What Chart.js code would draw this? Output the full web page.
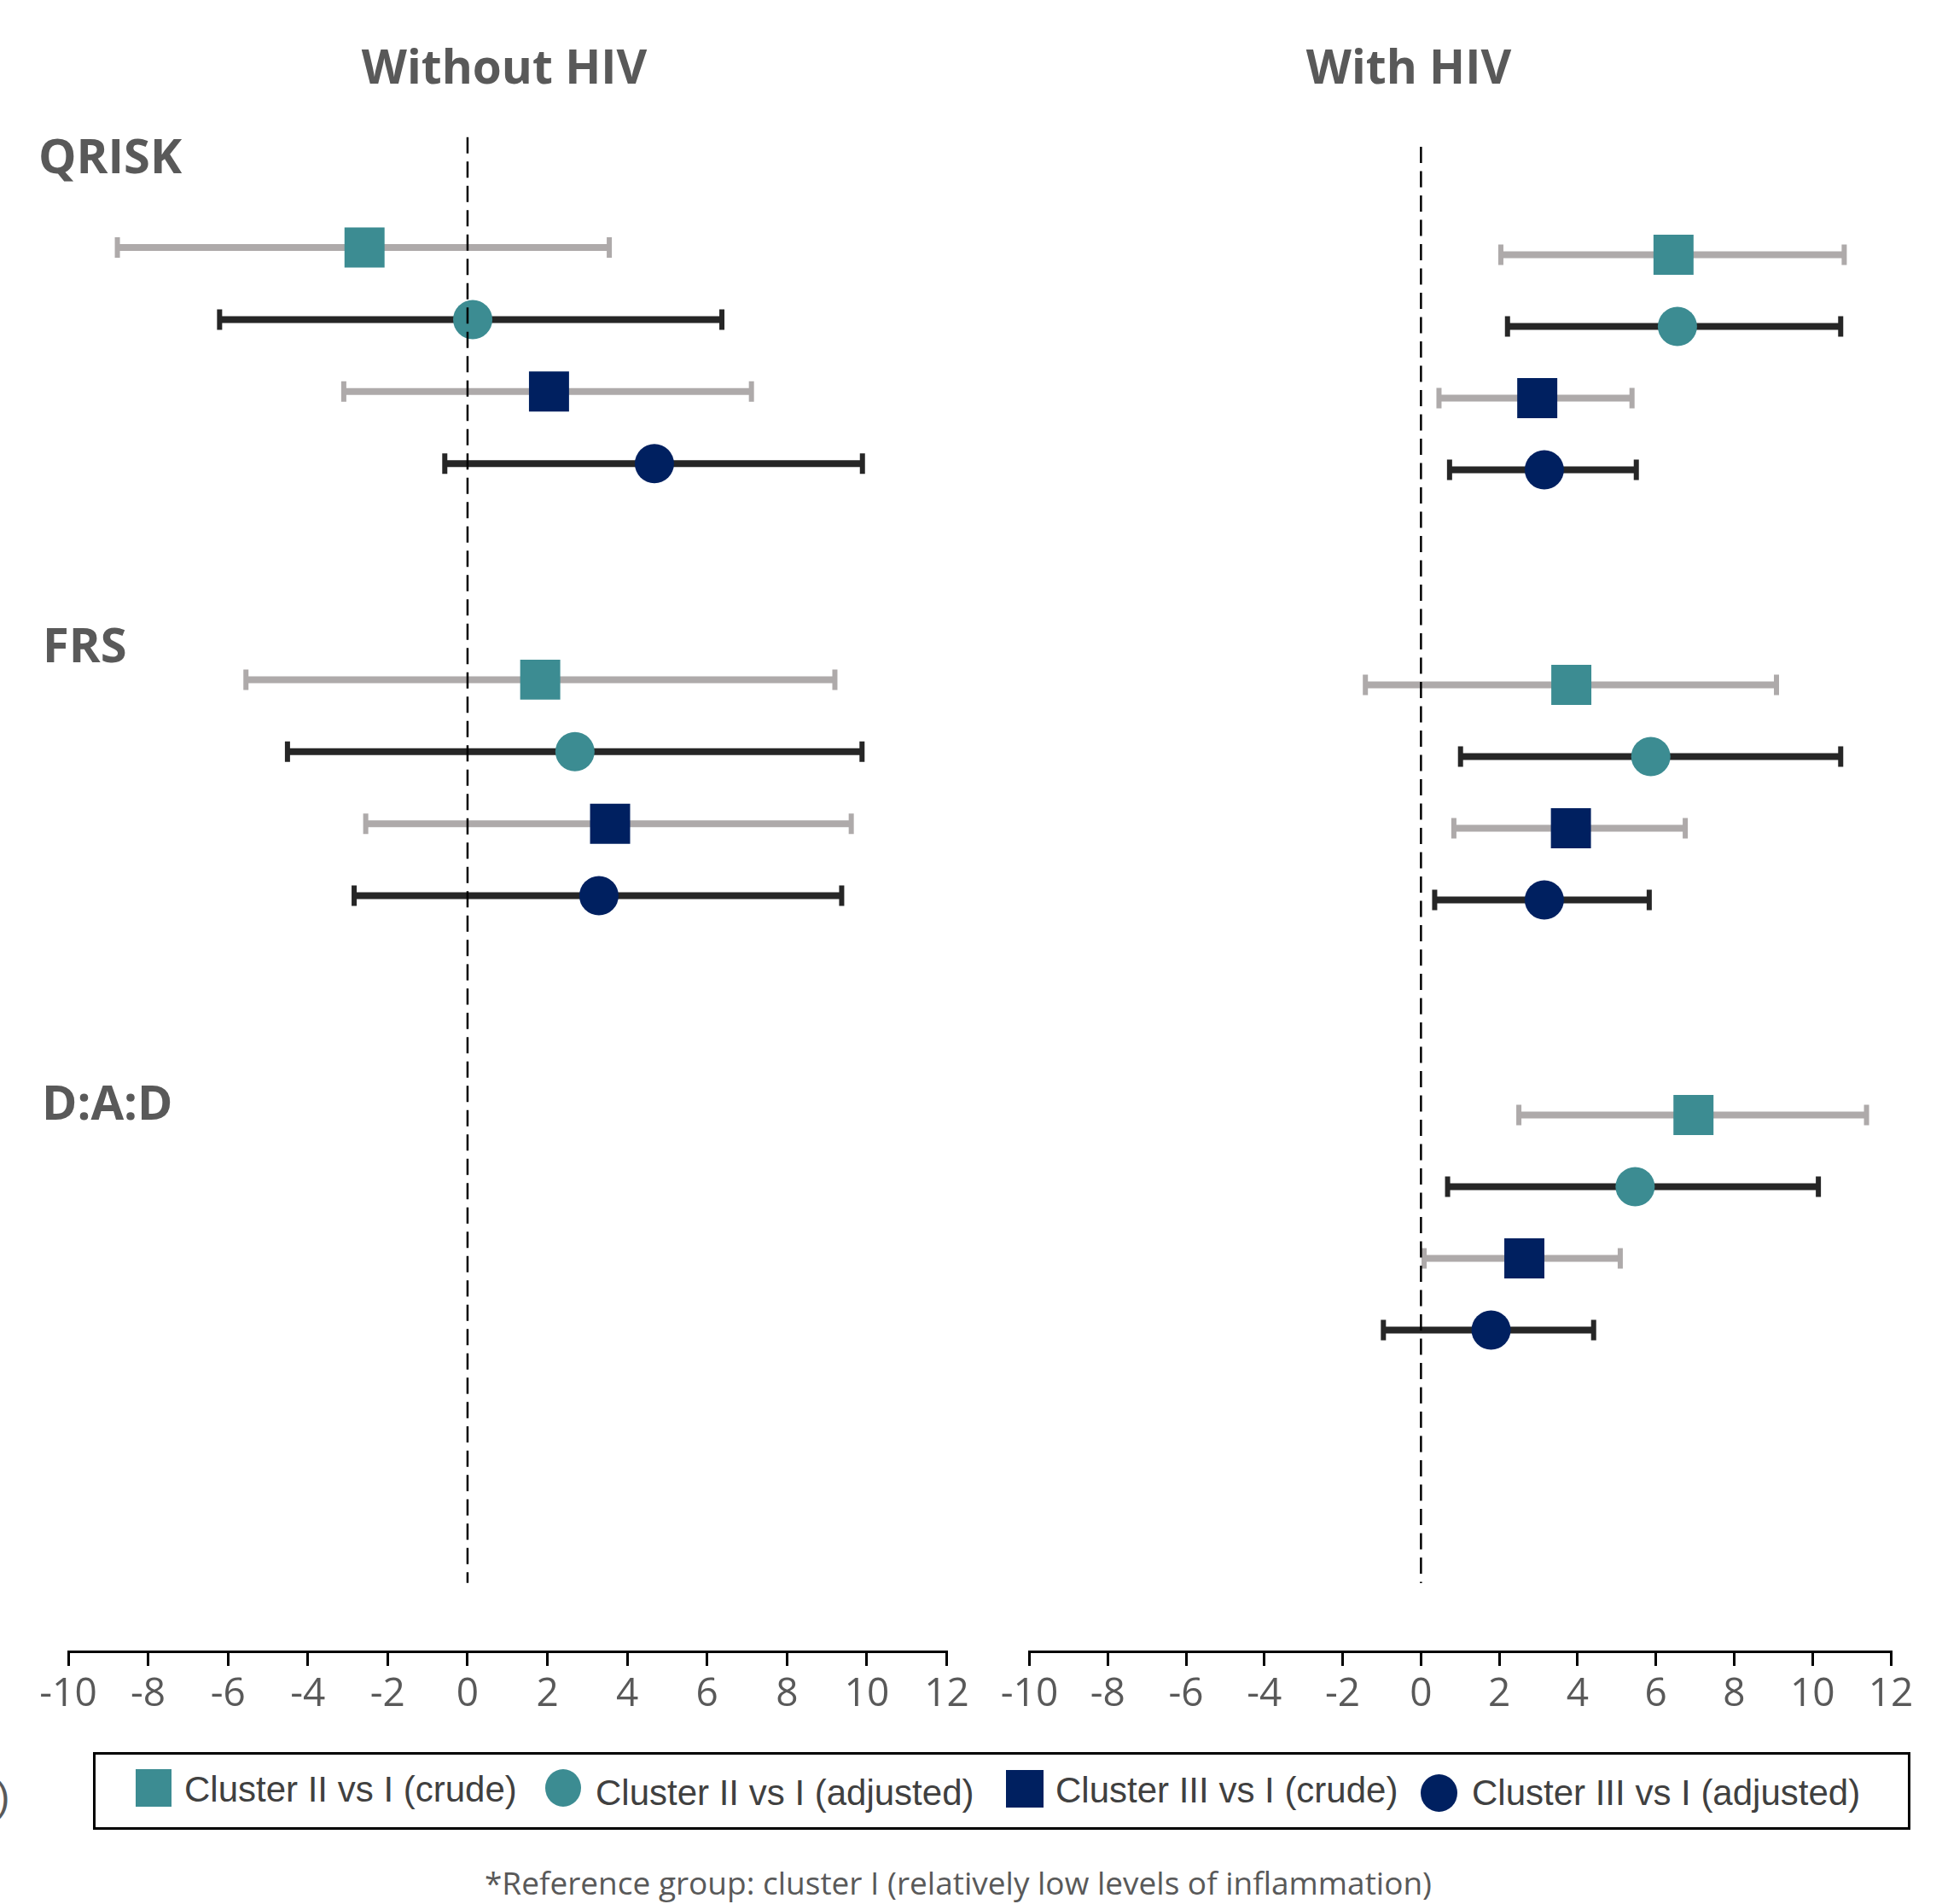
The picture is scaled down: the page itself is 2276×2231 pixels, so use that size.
<!DOCTYPE html>
<html>
<head>
<meta charset="utf-8">
<script src="https://cdn.jsdelivr.net/npm/chart.js@4.4.1/dist/chart.umd.min.js"></script>
<style>
  html, body { margin: 0; padding: 0; background: #fff; }
  #wrap { position: relative; width: 2276px; height: 2231px; overflow: hidden; background: #fff; }
  canvas { position: absolute; top: 0; }
  #cl { left: 0; }
  #cr { left: 1150px; }
  #legendBox { position: absolute; left: 109px; top: 2053px; width: 2130px; height: 91px; border: 3px solid #000; box-sizing: border-box; }
  .lgMark { position: absolute; }
  .lgText { position: absolute; font-family: 'Liberation Sans', Arial, sans-serif; font-size: 42px; line-height: 42px; color: #404040; white-space: nowrap; }
  #foot { position: absolute; left: 0; width: 2246px; text-align: center; font-family: 'Open Sans', sans-serif; font-size: 37px; line-height: 37px; color: #595959; white-space: nowrap; }
  #paren { position: absolute; left: -4px; font-family: 'Liberation Sans', Arial, sans-serif; font-size: 46px; line-height: 46px; color: #595959; }
</style>
</head>
<body>
<div id="wrap">
  <canvas id="cl" width="1180" height="2025"></canvas>
  <canvas id="cr" width="1126" height="2025"></canvas>
  <div id="legendBox"></div>
  <div id="paren">)</div>
  <div id="foot"></div>
</div>
<script>
// ---------------- DATA ----------------
const panelTitles = ['Without HIV', 'With HIV'];
const scores = ['QRISK', 'FRS', 'D:A:D'];
const seriesNames = ['Cluster II vs I (crude)', 'Cluster II vs I (adjusted)', 'Cluster III vs I (crude)', 'Cluster III vs I (adjusted)'];
const xTicks = [-10, -8, -6, -4, -2, 0, 2, 4, 6, 8, 10, 12];
const refValue = 0;
const footnote = '*Reference group: cluster I (relatively low levels of inflammation)';

// rows = series (in seriesNames order); columns = scores (QRISK, FRS, D:A:D)
const withoutEst  = [[-2.58, 1.82, null], [0.13, 2.69, null], [2.04, 3.57, null], [4.68, 3.29, null]];
const withoutLow  = [[-8.77, -5.55, null], [-6.21, -4.51, null], [-3.10, -2.55, null], [-0.57, -2.84, null]];
const withoutHigh = [[3.55, 9.20, null], [6.37, 9.88, null], [7.11, 9.61, null], [9.89, 9.37, null]];

const withEst  = [[6.45, 3.84, 6.96], [6.55, 5.87, 5.47], [2.97, 3.83, 2.64], [3.15, 3.15, 1.79]];
const withLow  = [[2.04, -1.42, 2.50], [2.21, 1.01, 0.68], [0.46, 0.84, 0.08], [0.73, 0.35, -0.96]];
const withHigh = [[10.81, 9.08, 11.38], [10.72, 10.72, 10.15], [5.39, 6.75, 5.09], [5.50, 5.83, 4.41]];

// ---------------- STYLE ----------------
const markerColors = ['#3C8C92', '#3C8C92', '#002060', '#002060'];
const markerShapes = ['rect', 'circle', 'rect', 'circle'];
const barColors = ['#AEAAAA', '#262626', '#AEAAAA', '#262626'];
const titleFont = "bold 55px 'Open Sans', sans-serif";
const labelFont = "bold 56px 'Open Sans', sans-serif";
const textGray = '#595959';

const panelText = {
  id: 'panelText',
  afterDraw(chart, args, opts) {
    const ctx = chart.ctx;
    ctx.save();
    ctx.fillStyle = textGray;
    ctx.textBaseline = 'alphabetic';
    ctx.font = titleFont;
    ctx.textAlign = 'center';
    ctx.fillText(opts.title, opts.titleX, opts.titleY);
    ctx.font = labelFont;
    ctx.textAlign = 'left';
    (opts.labels || []).forEach(l => ctx.fillText(l.text, l.x, l.y));
    ctx.restore();
  }
};

function makePanel(canvasId, est, low, high, cfg) {
  const datasets = [];
  datasets.push({
    type: 'line', label: 'ref',
    data: [{ x: refValue, y: cfg.dashFrom }, { x: refValue, y: cfg.dashTo }],
    borderColor: '#000', borderWidth: 2.5, borderDash: [19, 9.5],
    pointRadius: 0, showLine: true, order: 0
  });
  for (let k = 0; k < seriesNames.length; k++) {
    const bar = [], pts = [];
    for (let s = 0; s < scores.length; s++) {
      if (est[k][s] === null) continue;
      const row = 6 * s + k;
      bar.push({ x: low[k][s], y: row }, { x: high[k][s], y: row }, { x: null, y: null });
      pts.push({ x: est[k][s], y: row });
    }
    datasets.push({
      type: 'line', label: seriesNames[k] + ' CI', data: bar,
      showLine: true, spanGaps: false,
      borderColor: barColors[k], borderWidth: 8, borderCapStyle: 'butt',
      pointStyle: 'line', pointRotation: 90, pointRadius: 12,
      pointBorderWidth: 6, pointBorderColor: barColors[k], pointBackgroundColor: barColors[k],
      order: 2
    });
    datasets.push({
      type: 'scatter', label: seriesNames[k], data: pts,
      pointStyle: markerShapes[k], pointRadius: markerShapes[k] === 'rect' ? 33.2 : 23,
      pointBackgroundColor: markerColors[k], pointBorderWidth: 0, borderWidth: 0,
      order: 1
    });
  }
  return new Chart(document.getElementById(canvasId), {
    type: 'scatter',
    data: { datasets },
    plugins: [panelText],
    options: {
      responsive: false, animation: false, events: [],
      layout: { padding: { left: cfg.padL, right: cfg.padR, top: 150, bottom: 0 } },
      plugins: {
        legend: { display: false }, tooltip: { enabled: false },
        panelText: { title: cfg.title, titleX: cfg.titleX, titleY: 98, labels: cfg.labels }
      },
      scales: {
        x: {
          type: 'linear', position: 'bottom', min: xTicks[0], max: xTicks[xTicks.length - 1],
          afterBuildTicks: s => { s.ticks = xTicks.map(v => ({ value: v })); },
          afterFit: s => { s.height = 90; },
          grid: { display: true, drawOnChartArea: false, drawTicks: true, tickLength: 17, tickWidth: 3, tickColor: '#000', lineWidth: 3, color: '#000' },
          border: { display: true, color: '#000', width: 3 },
          ticks: { padding: 6, color: textGray, font: { family: "'Open Sans', sans-serif", size: 46 }, maxRotation: 0, autoSkip: false, callback: v => String(v) }
        },
        y: { type: 'linear', display: false, reverse: true, min: cfg.yMin, max: cfg.yMax }
      }
    }
  });
}

makePanel('cl', withoutEst, withoutLow, withoutHigh, {
  padL: 80, padR: 70.5, yMin: -1.659, yMax: 19.491, dashFrom: -1.533, dashTo: 18.54,
  title: panelTitles[0], titleX: 591,
  labels: [{ text: scores[0], x: 45, y: 203 }, { text: scores[1], x: 50, y: 776 }, { text: scores[2], x: 49, y: 1312 }]
});
makePanel('cr', withEst, withLow, withHigh, {
  padL: 56.5, padR: 60, yMin: -1.768, yMax: 19.482, dashFrom: -1.506, dashTo: 18.53,
  title: panelTitles[1], titleX: 501, labels: []
});

// ---------------- LEGEND (HTML) ----------------
const wrap = document.getElementById('wrap');
const lgLayout = [
  { mx: 159, my: 2073, mw: 42, mh: 44, tx: 216, base: 2112 },
  { mx: 639, my: 2073, mw: 42, mh: 44, tx: 698, base: 2116 },
  { mx: 1179, my: 2074, mw: 44, mh: 44, tx: 1237, base: 2113 },
  { mx: 1665, my: 2079, mw: 43, mh: 44, tx: 1725, base: 2116 }
];
seriesNames.forEach((name, k) => {
  const L = lgLayout[k];
  const m = document.createElement('div');
  m.className = 'lgMark';
  m.style.left = L.mx + 'px'; m.style.top = L.my + 'px';
  m.style.width = L.mw + 'px'; m.style.height = L.mh + 'px';
  m.style.background = markerColors[k];
  if (markerShapes[k] === 'circle') m.style.borderRadius = '50%';
  wrap.appendChild(m);
  const t = document.createElement('div');
  t.className = 'lgText';
  t.textContent = name;
  t.style.left = L.tx + 'px';
  t.style.top = (L.base - 35.6) + 'px';
  wrap.appendChild(t);
});
const foot = document.getElementById('foot');
foot.textContent = footnote;
foot.style.top = (2220 - 0.888 * 37) + 'px';
document.getElementById('paren').style.top = (2090 - 8) + 'px';
</script>
</body>
</html>
